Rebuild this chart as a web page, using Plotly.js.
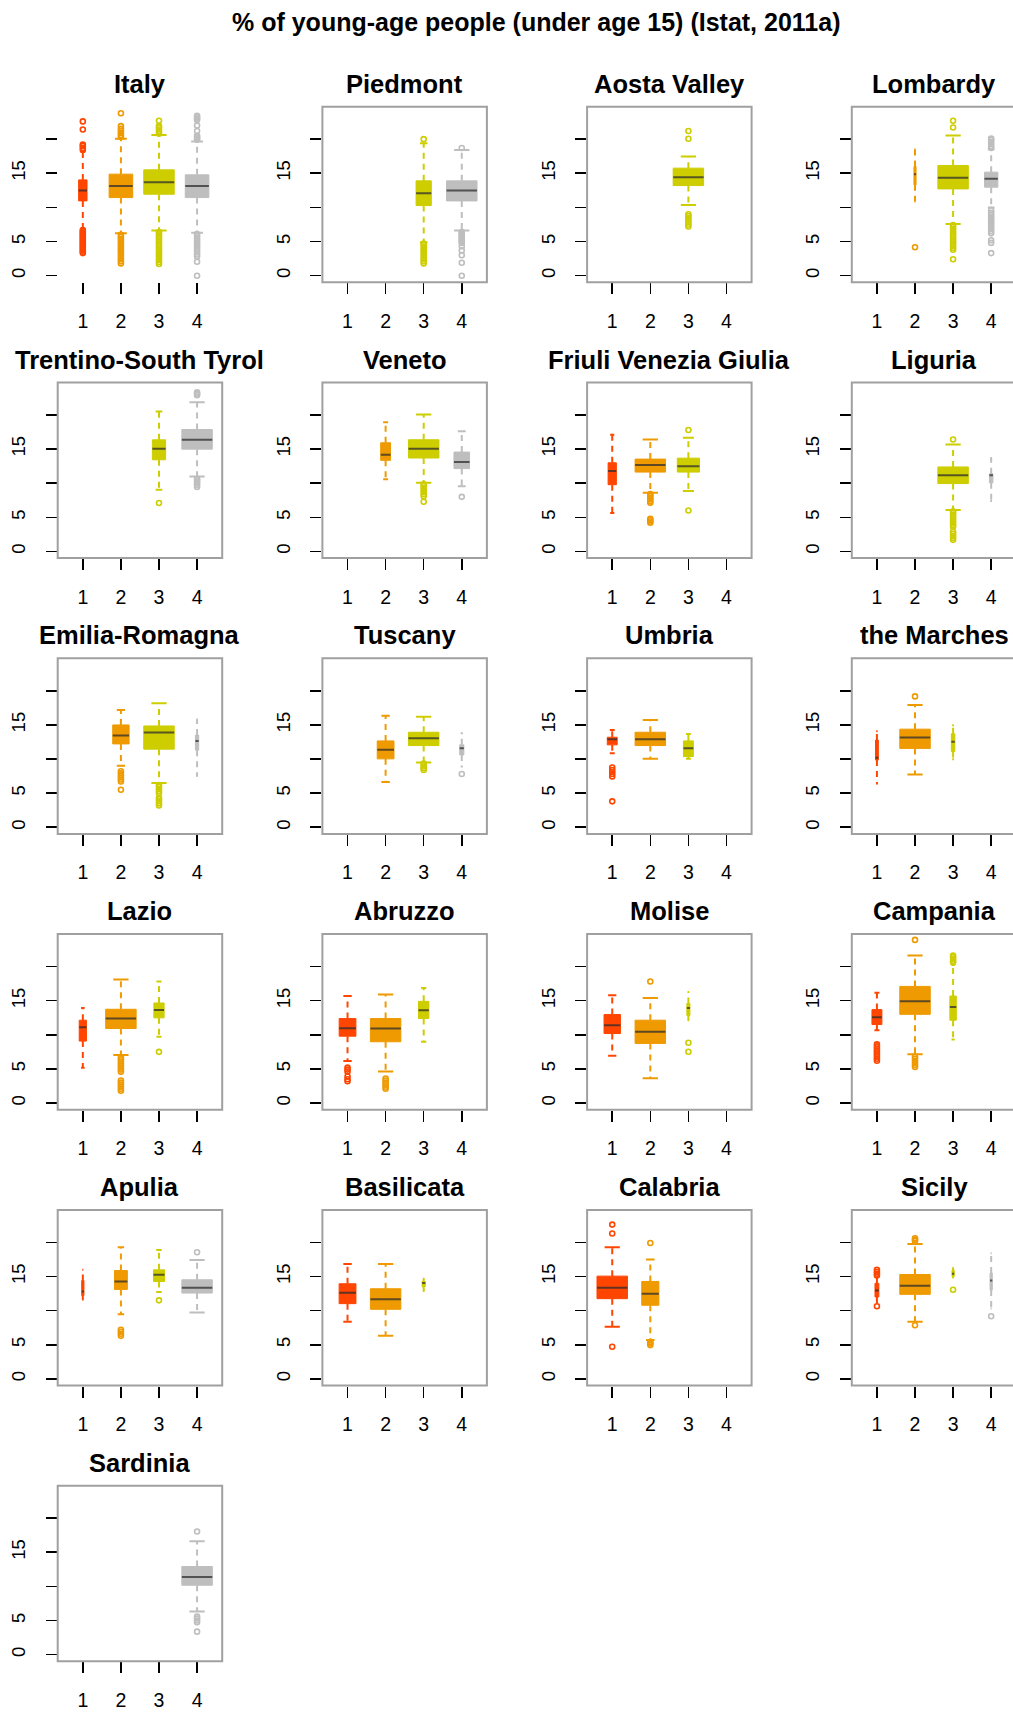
<!DOCTYPE html>
<html>
<head>
<meta charset="utf-8">
<script src="https://cdn.plot.ly/plotly-3.0.1.min.js"></script>
<style>html,body{margin:0;padding:0;background:#fff;}#chart{width:1013px;height:1713px;}</style>
</head>
<body>
<div id="chart"></div>
<script>
// ---------------- DATA ----------------
const mainTitle = "% of young-age people (under age 15) (Istat, 2011a)";
const categories = [1, 2, 3, 4];
const catColors = ["#FF4500", "#EE9A00", "#CDCD00", "#BEBEBE"];
const regions = ["Italy","Piedmont","Aosta Valley","Lombardy","Trentino-South Tyrol","Veneto",
  "Friuli Venezia Giulia","Liguria","Emilia-Romagna","Tuscany","Umbria","the Marches",
  "Lazio","Abruzzo","Molise","Campania","Apulia","Basilicata","Calabria","Sicily","Sardinia"];
const yTickVals = [0, 5, 10, 15, 20];
const yTickText = ["0", "5", "", "15", ""];

// number of municipalities per category (drives box widths, varwidth)
const counts = [
  [266,2100,3500,2100],[0,0,241,965],[0,0,74,0],[0,6,1250,240],[0,0,53,280],[0,44,420,110],
  [10,136,72,0],[0,0,230,3],[0,75,260,3],[0,65,215,4],[8,76,8,0],[2,230,3,0],
  [18,320,36,0],[65,215,25,0],[29,100,1,0],[50,470,21,0],[1,34,25,190],[29,95,1,0],
  [310,98,0,0],[6,370,2,2],[0,0,0,377]];
const lowerWhisker = [
  [6.9,6.2,6.6,6.3],[null,null,4.9,6.6],[null,null,10.37,null],[null,10.85,7.58,10.0],[null,null,9.05,11.0],[null,10.58,10.05,9.56],
  [5.64,8.6,8.86,null],[null,null,6.07,7.4],[null,9.0,6.47,7.5],[null,6.62,9.49,8.9],[10.85,10.02,10.02,null],[6.36,7.72,9.95,null],
  [5.19,7.04,9.7,null],[6.17,4.61,8.98,null],[6.94,3.64,12.14,null],[10.68,7.14,9.32,null],[11.6,9.47,12.72,9.71],[8.35,6.31,12.86,null],
  [7.62,5.68,null,null],[11.2,8.35,14.8,10.3],[null,null,null,6.31]];
const q1 = [
  [10.95,11.44,11.93,11.44],[null,null,10.27,10.95],[null,null,13.2,null],[null,13.3,12.71,12.96],[null,null,13.43,14.99],[null,13.35,13.69,12.14],
  [9.78,11.63,11.63,null],[null,null,9.95,10.05],[null,12.21,11.44,11.3],[null,10.02,11.97,10.6],[12.07,11.97,10.36,null],[9.85,11.55,11.1,null],
  [9.08,10.92,12.48,null],[9.8,8.98,12.38,null],[10.19,8.74,12.8,null],[11.5,13.0,12.14,null],[12.2,13.1,14.27,12.57],[11.02,10.19,13.5,null],
  [11.75,10.78,null,null],[12.0,12.38,15.0,13.0],[null,null,null,10.17]];
const median = [
  [12.47,13.15,13.69,13.15],[null,null,12.08,12.47],[null,null,14.43,null],[null,14.87,14.33,14.18],[null,null,15.04,16.35],[null,14.17,15.05,13.1],
  [11.78,12.65,12.5,null],[null,null,11.17,11.17],[null,13.43,13.87,12.65],[null,11.34,13.04,11.58],[12.9,12.9,11.58,null],[10.2,13.16,12.52,null],
  [11.12,12.38,13.64,null],[10.97,10.92,13.6,null],[11.41,10.44,13.93,null],[12.57,14.9,14.08,null],[12.8,14.27,15.24,13.35],[12.62,11.65,14.03,null],
  [13.35,12.48,null,null],[12.96,13.64,15.4,14.4],[null,null,null,11.39]];
const q3 = [
  [14.03,14.87,15.5,14.77],[null,null,13.89,13.89],[null,null,15.75,null],[null,16.0,16.14,15.16],[null,null,16.35,17.86],[null,15.92,16.36,14.56],
  [12.99,13.53,13.67,null],[null,null,12.38,11.4],[null,14.99,14.84,13.5],[null,12.65,13.92,12.07],[13.19,13.92,12.65,null],[12.77,14.37,13.7,null],
  [12.14,13.74,14.66,null],[12.38,12.38,14.9,null],[12.96,12.14,14.6,null],[13.69,17.09,15.68,null],[14.4,15.87,15.97,14.51],[13.93,13.2,14.3,null],
  [15.05,14.27,null,null],[14.0,15.29,15.9,15.5],[null,null,null,12.91]];
const upperWhisker = [
  [18.1,20.05,20.6,19.66],[null,null,19.4,18.4],[null,null,17.46,null],[null,18.5,20.54,18.5],[null,null,20.5,21.85],[null,18.93,20.05,17.6],
  [17.08,16.4,16.64,null],[null,null,15.68,13.7],[null,17.18,18.15,15.8],[null,16.35,16.2,13.77],[14.26,15.72,13.67,null],[14.08,17.9,14.95,null],
  [13.93,18.1,17.8,null],[15.68,15.92,16.84,null],[15.78,15.39,16.26,null],[16.17,21.6,20.24,null],[15.97,19.27,18.88,17.43],[16.84,16.84,14.66,null],
  [19.27,17.48,null,null],[14.9,19.76,16.26,18.4],[null,null,null,16.63]];
const outliers = [
  [[3.3,3.5,3.7,3.9,4.1,4.3,4.5,4.7,4.9,5.1,5.3,5.5,5.7,5.9,6.1,6.3,6.5,6.7,18.4,18.7,19.0,19.2,21.4,22.6],
   [1.8,2.1,2.4,2.7,3.0,3.3,3.6,3.9,4.2,4.5,4.8,5.1,5.4,5.7,6.0,20.3,20.6,20.9,21.2,21.5,21.9,23.8],
   [1.7,2.0,2.3,2.6,2.9,3.2,3.5,3.8,4.1,4.4,4.7,5.0,5.3,5.6,5.9,6.2,6.4,20.8,21.1,21.4,21.7,21.9,22.7],
   [0,2.05,2.8,3.1,3.4,3.7,4.0,4.3,4.6,4.9,5.2,5.5,5.8,6.1,19.9,20.1,20.3,20.5,21.2,22.0,22.8,23.0,23.2,23.4]],
  [[],[],[1.8,2.1,2.4,2.7,3.0,3.3,3.6,3.9,4.2,4.5,4.7,20.0],[0,1.9,3.0,3.7,4.3,4.8,5.0,5.2,5.4,5.6,5.8,6.0,6.2,6.4,18.7]],
  [[],[],[7.2,7.5,7.8,8.1,8.4,8.7,9.0,20.05,21.2],[]],
  [[],[4.16],[2.4,3.8,4.1,4.4,4.7,5.0,5.3,5.6,5.9,6.2,6.5,6.8,7.1,7.4,21.7,22.7],[3.3,4.8,5.2,6.2,6.5,6.8,7.1,7.4,7.7,8.0,8.3,8.6,8.9,9.2,9.6,18.7,19.0,19.3,19.6,19.9,20.1]],
  [[],[],[7.1],[9.44,9.7,9.95,10.2,10.45,10.66,22.9,23.1,23.3]],
  [[],[],[7.28,8.1,8.4,8.7,9.0,9.3,9.6,9.85],[8.0]],
  [[],[4.2,4.4,4.6,4.8,7.15,7.4,7.65,7.9,8.15,8.4],[6.0,17.8],[]],
  [[],[],[1.7,2.0,2.3,2.6,2.9,3.64,3.9,4.2,4.5,4.8,5.1,5.4,5.7,5.9,16.4],[]],
  [[],[5.5,6.7,7.0,7.3,7.6,7.9,8.2],[3.2,3.5,3.8,4.1,4.3,5.0,5.3,5.6,5.9,6.2],[]],
  [[],[],[8.4,8.65,8.9,9.15,9.35],[7.8]],
  [[3.8,7.45,7.8,8.1,8.4,8.76],[],[],[]],
  [[],[19.17],[],[]],
  [[],[1.8,2.1,2.4,2.7,3.0,3.3,4.6,4.9,5.2,5.5,5.8,6.1,6.4,6.7],[7.5],[]],
  [[3.2,3.5,3.9,4.6,4.9,5.2],[2.1,2.4,2.7,3.0,3.3,3.6],[],[]],
  [[],[17.8],[7.52,8.83],[]],
  [[6.2,6.5,6.8,7.1,7.4,7.7,8.0,8.3,8.6],[5.3,5.6,5.9,6.2,6.5,6.8,23.9],[20.6,20.85,21.1,21.35,21.6],[]],
  [[],[6.3,6.6,6.9,7.2],[11.5],[18.54]],
  [[],[],[],[]],
  [[4.7,21.3,22.6],[4.95,5.2,5.4,19.9],[],[]],
  [[10.63,15.15,15.4,15.65,15.97],[7.86,20.2,20.4,20.6],[13.06],[9.17]],
  [[],[],[],[3.37,4.74,5.0,5.3,5.57,18.04]]];

// ---------------- LAYOUT GEOMETRY (pixels) ----------------
const W = 1013, H = 1713;
const colX0 = 57.7, colStep = 264.7, frameW = 164.5;
const rowY0 = 106.7, rowStep = 275.8, frameH = 175.6;
const xFull = [0.34, 4.66], yFull = [-0.97, 24.75];
const FONT = "Liberation Sans, Arial, sans-serif";

const traces = [], shapes = [], annotations = [];
const layout = {
  width: W, height: H, margin: {l:0, r:0, t:0, b:0},
  paper_bgcolor: "#fff", plot_bgcolor: "rgba(0,0,0,0)",
  showlegend: false, hovermode: false,
  font: {family: FONT, color: "#000"}
};

regions.forEach((name, i) => {
  const r = Math.floor(i / 4), c = i % 4, k = i + 1;
  const xL = colX0 + c * colStep, yT = rowY0 + r * rowStep;
  const xRgt = Math.min(xL + frameW, W);
  const xEnd = xFull[0] + (xRgt - xL) / frameW * (xFull[1] - xFull[0]);
  const xa = "xaxis" + (k === 1 ? "" : k), ya = "yaxis" + (k === 1 ? "" : k);
  const xr = "x" + (k === 1 ? "" : k), yr = "y" + (k === 1 ? "" : k);
  layout[xa] = {
    domain: [xL / W, xRgt / W], range: [xFull[0], xEnd], anchor: yr,
    tickvals: categories, ticktext: categories.map(String),
    ticks: "outside", ticklen: 11, tickwidth: 1.6, tickcolor: "#000",
    showline: false, showgrid: false, zeroline: false, fixedrange: true,
    tickfont: {family: FONT, size: 19.5, color: "#000"}, ticklabelstandoff: 10
  };
  layout[ya] = {
    domain: [1 - (yT + frameH) / H, 1 - yT / H], range: yFull, anchor: xr,
    tickvals: yTickVals, ticktext: yTickText, tickangle: -90,
    ticks: "outside", ticklen: 11, tickwidth: 1.6, tickcolor: "#000",
    showline: false, showgrid: false, zeroline: false, fixedrange: true,
    tickfont: {family: FONT, size: 18.5, color: "#000"}, ticklabelstandoff: 13
  };
  if (i !== 0) {
    shapes.push({type: "rect", xref: "paper", yref: "paper",
      x0: xL / W, x1: (xL + frameW) / W, y0: 1 - (yT + frameH) / H, y1: 1 - yT / H,
      line: {color: "#a0a0a0", width: 2}, fillcolor: "rgba(0,0,0,0)", layer: "above"});
  }
  annotations.push({text: "<b>" + name + "</b>", xref: "paper", yref: "paper",
    x: (xL + frameW / 2) / W, y: 1 - (yT - 23) / H, xanchor: "center", yanchor: "middle",
    showarrow: false, font: {family: FONT, size: 25.5, color: "#000"}});

  const nMax = Math.max(...counts[i]);
  categories.forEach((cat, j) => {
    if (q1[i][j] === null) return;
    const col = catColors[j];
    const hw = 0.4 * Math.sqrt(counts[i][j] / nMax);
    const sw = hw / 2;
    // whiskers (dashed)
    traces.push({type: "scatter", mode: "lines", xaxis: xr, yaxis: yr,
      x: [cat, cat, null, cat, cat], y: [q3[i][j], upperWhisker[i][j], null, q1[i][j], lowerWhisker[i][j]],
      line: {color: col, width: 2, dash: "6px,5px"}, hoverinfo: "skip"});
    // staples
    traces.push({type: "scatter", mode: "lines", xaxis: xr, yaxis: yr,
      x: [cat - sw, cat + sw, null, cat - sw, cat + sw],
      y: [upperWhisker[i][j], upperWhisker[i][j], null, lowerWhisker[i][j], lowerWhisker[i][j]],
      line: {color: col, width: 2}, hoverinfo: "skip"});
    // box
    traces.push({type: "scatter", mode: "lines", xaxis: xr, yaxis: yr, fill: "toself",
      x: [cat - hw, cat + hw, cat + hw, cat - hw, cat - hw],
      y: [q1[i][j], q1[i][j], q3[i][j], q3[i][j], q1[i][j]],
      fillcolor: col, line: {color: col, width: 1}, hoverinfo: "skip"});
    // median
    traces.push({type: "scatter", mode: "lines", xaxis: xr, yaxis: yr,
      x: [cat - hw, cat + hw], y: [median[i][j], median[i][j]],
      line: {color: "rgba(45,45,45,0.75)", width: 2}, hoverinfo: "skip"});
    // outliers
    const out = outliers[i][j];
    if (out.length) {
      traces.push({type: "scatter", mode: "markers", xaxis: xr, yaxis: yr,
        x: out.map(() => cat), y: out,
        marker: {symbol: "circle-open", size: 5, color: col, line: {color: col, width: 1.6}},
        hoverinfo: "skip", cliponaxis: false});
    }
  });
});

annotations.push({text: "<b>" + mainTitle + "</b>", xref: "paper", yref: "paper",
  x: 536 / W, y: 1 - 22 / H, xanchor: "center", yanchor: "middle", showarrow: false,
  font: {family: FONT, size: 25, color: "#000"}});

layout.shapes = shapes;
layout.annotations = annotations;
Plotly.newPlot("chart", traces, layout, {staticPlot: true, displayModeBar: false});
</script>
</body>
</html>
